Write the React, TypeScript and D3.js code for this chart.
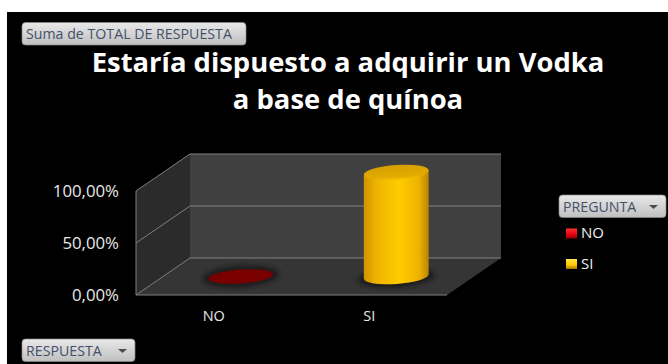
import React from "react";
import * as d3 from "d3";

const categories = ["NO", "SI"];
const seriesValues = [0, 100];
const yTicks = [0, 50, 100];
const yTickLabels = ["0,00%", "50,00%", "100,00%"];
const titleLines = ["Estaría dispuesto a adquirir un Vodka", "a base de quínoa"];
const legendItems = ["NO", "SI"];
const legendColors = [
  ["#ff3030", "#e80010", "#8a0008"],
  ["#ffe640", "#ffc800", "#a07800"],
];

const FONT = "'Open Sans', 'Noto Sans', sans-serif";

// Oblique projection of the 3D plot box
const front = { x0: 136, x1: 447, y: 295 };
const depth = { dx: 54, dy: -37 };

const yScale = d3.scaleLinear().domain([0, 100]).range([0, 104]);
const xBand = d3.scaleBand().domain(categories).range([front.x0, front.x1]);

const project = (x: number, d: number, h: number): [number, number] => [
  x + depth.dx * d,
  front.y + depth.dy * d - h,
];
const pts = (list: [number, number][]) => list.map((p) => p.join(",")).join(" ");

function FilterButton({ x, y, w, label, arrow }: { x: number; y: number; w: number; label: string; arrow: boolean }) {
  return (
    <g>
      <rect x={x} y={y} width={w} height={22.5} rx={3.5} fill="url(#btn)" stroke="#8a8a8a" strokeWidth={0.7} />
      <text x={x + 4} y={y + 16.5} fontFamily={FONT} fontSize={14.2} fill="#44506a">
        {label}
      </text>
      {arrow && <path d={`M${x + w - 17},${y + 10} h9 l-4.5,4 z`} fill="#4a4a4a" />}
    </g>
  );
}

function Cylinder({ cat, value, fills }: { cat: string; value: number; fills: [string, string] }) {
  const rx = 32.5;
  const ry = 7.5;
  const cx = xBand(cat)! + xBand.bandwidth() / 2 + depth.dx / 2;
  const cy = front.y + depth.dy / 2;
  const h = yScale(value);
  const tilt = -4;
  // Side points of the tilted base ellipse
  const a = (tilt * Math.PI) / 180;
  const sx = rx * Math.cos(a);
  const sy = rx * Math.sin(a);
  if (value === 0) {
    return (
      <g>
        <ellipse cx={cx} cy={cy} rx={rx + 6} ry={ry + 3.5} transform={`rotate(${tilt} ${cx} ${cy})`} fill="#1c1c1c" filter="url(#soft)" />
        <ellipse cx={cx} cy={cy} rx={rx} ry={7} transform={`rotate(${tilt} ${cx} ${cy})`} fill={fills[0]} />
      </g>
    );
  }
  const body = `M${cx - sx},${cy - sy - h} L${cx - sx},${cy - sy} A${rx},${ry} ${tilt} 0 0 ${cx + sx},${cy + sy} L${cx + sx},${cy + sy - h} Z`;
  return (
    <g>
      <ellipse cx={cx} cy={cy + 1} rx={rx + 6} ry={ry + 2.5} transform={`rotate(${tilt} ${cx} ${cy})`} fill="#1c1c1c" filter="url(#soft)" />
      <path d={body} fill="url(#cyl)" />
      <ellipse cx={cx} cy={cy - h} rx={rx} ry={ry} transform={`rotate(${tilt} ${cx} ${cy - h})`} fill="url(#cylTop)" />
    </g>
  );
}

export default function App() {
  const wall = "#404040";
  const side = "#2b2b2b";
  const floor = "#353535";
  const grid = "#808080";
  const top = yScale(100);

  const floorPoly = [project(front.x0, 0, 0), project(front.x1, 0, 0), project(front.x1, 1, 0), project(front.x0, 1, 0)];
  const backPoly = [project(front.x0, 1, 0), project(front.x1, 1, 0), project(front.x1, 1, top), project(front.x0, 1, top)];
  const sidePoly = [project(front.x0, 0, 0), project(front.x0, 1, 0), project(front.x0, 1, top), project(front.x0, 0, top)];

  return (
    <svg
      width={668}
      height={364}
      style={{ position: "absolute", left: 0, top: 0, background: "#fff" }}
    >
      <defs>
        <linearGradient id="btn" x1="0" y1="0" x2="0" y2="1">
          <stop offset="0" stopColor="#e8e8e8" />
          <stop offset="1" stopColor="#c0c0c0" />
        </linearGradient>
        <linearGradient id="cyl" x1="0" y1="0" x2="1" y2="0">
          <stop offset="0" stopColor="#cc9600" />
          <stop offset="0.18" stopColor="#eeb200" />
          <stop offset="0.55" stopColor="#ffcc00" />
          <stop offset="0.85" stopColor="#eeb200" />
          <stop offset="1" stopColor="#b88600" />
        </linearGradient>
        <linearGradient id="cylTop" x1="0" y1="0" x2="0" y2="1">
          <stop offset="0" stopColor="#d49f00" />
          <stop offset="0.8" stopColor="#e4ac00" />
          <stop offset="1" stopColor="#f6c400" />
        </linearGradient>
        <filter id="soft" x="-20%" y="-50%" width="140%" height="200%">
          <feGaussianBlur stdDeviation="2" />
        </filter>
        {legendColors.map((c, i) => (
          <linearGradient key={i} id={`leg${i}`} x1="0" y1="0" x2="0" y2="1">
            <stop offset="0" stopColor={c[0]} />
            <stop offset="0.6" stopColor={c[1]} />
            <stop offset="1" stopColor={c[2]} />
          </linearGradient>
        ))}
      </defs>

      <rect x={7} y={12} width={661} height={352} fill="#000" />

      <polygon points={pts(sidePoly)} fill={side} />
      <polygon points={pts(backPoly)} fill={wall} />
      <polygon points={pts(floorPoly)} fill={floor} />

      {/* Gridlines wrap from the left wall across the back wall */}
      {yTicks.map((t) => {
        const h = yScale(t);
        return (
          <polyline
            key={t}
            points={pts([project(front.x0, 0, h), project(front.x0, 1, h), project(front.x1, 1, h)])}
            fill="none"
            stroke={grid}
            strokeWidth={1}
          />
        );
      })}
      <line x1={front.x0} y1={front.y - top} x2={front.x0} y2={front.y} stroke={grid} strokeWidth={1} />
      <line x1={front.x0} y1={front.y} x2={front.x1} y2={front.y} stroke={grid} strokeWidth={1.2} />

      {yTicks.map((t, i) => (
        <text key={t} x={119} y={front.y - yScale(t) + 6} textAnchor="end" fontFamily={FONT} fontSize={16.8} fill="#e8e8e8">
          {yTickLabels[i]}
        </text>
      ))}

      {categories.map((c, i) => (
        <g key={c}>
          <Cylinder cat={c} value={seriesValues[i]} fills={i === 0 ? ["#7a0000", "#7a0000"] : ["#ffc800", "#ffd400"]} />
          <text
            x={(xBand(c) ?? 0) + xBand.bandwidth() / 2}
            y={320.5}
            textAnchor="middle"
            fontFamily={FONT}
            fontSize={14.5}
            fill="#e8e8e8"
          >
            {c}
          </text>
        </g>
      ))}

      {titleLines.map((line, i) => (
        <text key={line} x={348} y={72 + i * 37} textAnchor="middle" fontFamily={FONT} fontWeight={700} fontSize={27.4} fill="#fff">
          {line}
        </text>
      ))}

      <FilterButton x={22} y={22.5} w={224} label="Suma de TOTAL DE RESPUESTA" arrow={false} />
      <FilterButton x={22} y={339} w={113} label="RESPUESTA" arrow={true} />
      <FilterButton x={559} y={195} w={107} label="PREGUNTA" arrow={true} />

      {legendItems.map((item, i) => (
        <g key={item}>
          <rect x={566} y={228.5 + i * 30.5} width={11} height={10} fill={`url(#leg${i})`} />
          <text x={581} y={238 + i * 30.5} fontFamily={FONT} fontSize={15} fill="#f0f0f0">
            {item}
          </text>
        </g>
      ))}
    </svg>
  );
}
